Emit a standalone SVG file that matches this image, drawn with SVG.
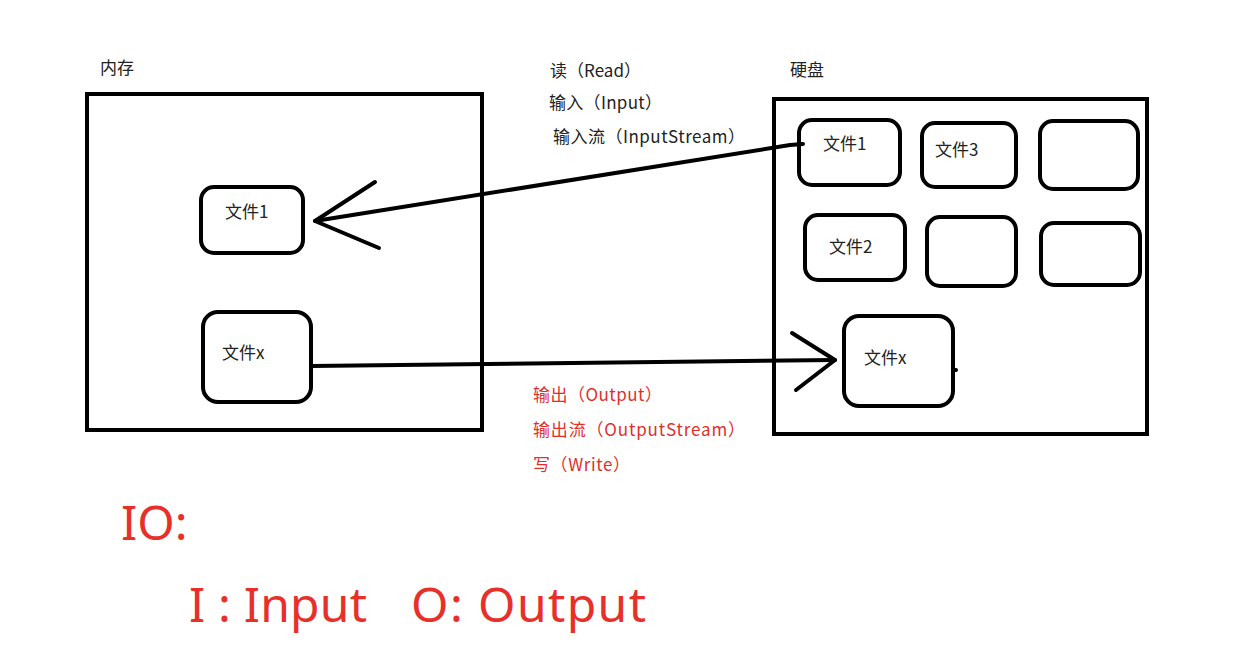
<svg xmlns="http://www.w3.org/2000/svg" width="1260" height="654" viewBox="0 0 1260 654">
<style>
.box{fill:none;stroke:#000;stroke-width:4}
.node{fill:#fff;stroke:#000;stroke-width:4}
.ln{fill:none;stroke:#000;stroke-width:4;stroke-linecap:round;stroke-linejoin:round}
.t{font-family:"Noto Sans CJK SC","Noto Sans",sans-serif;font-size:17px;fill:#222}
.r{font-family:"Noto Sans CJK SC","Noto Sans",sans-serif;font-size:17px;fill:#e0302a}
.big{font-family:"Noto Sans","Noto Sans CJK SC",sans-serif;font-size:48px;fill:#e8302a}
</style>
<rect width="1260" height="654" fill="#fff"/>
<g id="memory">
<rect class="box" x="87" y="94" width="395" height="336"/>
<text class="t" x="100" y="74">内存</text>
</g>
<g id="disk">
<rect class="box" x="774" y="99" width="373" height="335"/>
<text class="t" x="790" y="76">硬盘</text>
</g>
<g id="mem-file1">
<rect class="node" x="201" y="187" width="102" height="66" rx="13"/>
<text class="t" x="225" y="218">文件1</text>
</g>
<g id="mem-filex">
<rect class="node" x="203" y="312" width="108" height="90" rx="15"/>
<text class="t" x="222" y="359">文件x</text>
</g>
<g id="disk-file1">
<rect class="node" x="799" y="120" width="101" height="65" rx="13"/>
<text class="t" x="823" y="150">文件1</text>
</g>
<g id="disk-file3">
<rect class="node" x="922" y="123" width="94" height="64" rx="13"/>
<text class="t" x="935" y="156">文件3</text>
</g>
<g id="disk-empty1">
<rect class="node" x="1040" y="121" width="98" height="68" rx="13"/>
</g>
<g id="disk-file2">
<rect class="node" x="805" y="215" width="100" height="65" rx="13"/>
<text class="t" x="829" y="253">文件2</text>
</g>
<g id="disk-empty2">
<rect class="node" x="927" y="217" width="89" height="69" rx="13"/>
</g>
<g id="disk-empty3">
<rect class="node" x="1041" y="223" width="99" height="62" rx="13"/>
</g>
<g id="disk-filex">
<rect class="node" x="844" y="316" width="109" height="90" rx="15"/>
<text class="t" x="864" y="364">文件x</text>
<line class="ln" x1="953" y1="370" x2="956" y2="370"/>
</g>
<g id="connectors">
<polyline class="ln" points="803,144 790,145 315,221"/>
<polyline class="ln" points="375,182 315,221 379,248"/>
<polyline class="ln" points="311,366 835,360"/>
<polyline class="ln" points="792,333 835,360 796,390"/>
</g>
<g id="labels">
<text class="t" x="550" y="77" textLength="91" lengthAdjust="spacing">读（Read）</text>
<text class="t" x="549" y="109" textLength="113" lengthAdjust="spacing">输入（Input）</text>
<text class="t" x="553" y="143" textLength="192" lengthAdjust="spacing">输入流（InputStream）</text>
<text class="r" x="533" y="401" textLength="129" lengthAdjust="spacing">输出（Output）</text>
<text class="r" x="533" y="436" textLength="212" lengthAdjust="spacing">输出流（OutputStream）</text>
<text class="r" x="533" y="471" textLength="97" lengthAdjust="spacing">写（Write）</text>
<text class="big" x="121" y="540">IO:</text>
<text class="big" x="189" y="622" textLength="178" lengthAdjust="spacing">I : Input</text>
<text class="big" x="411" y="622" textLength="235" lengthAdjust="spacing">O: Output</text>
</g>
</svg>
